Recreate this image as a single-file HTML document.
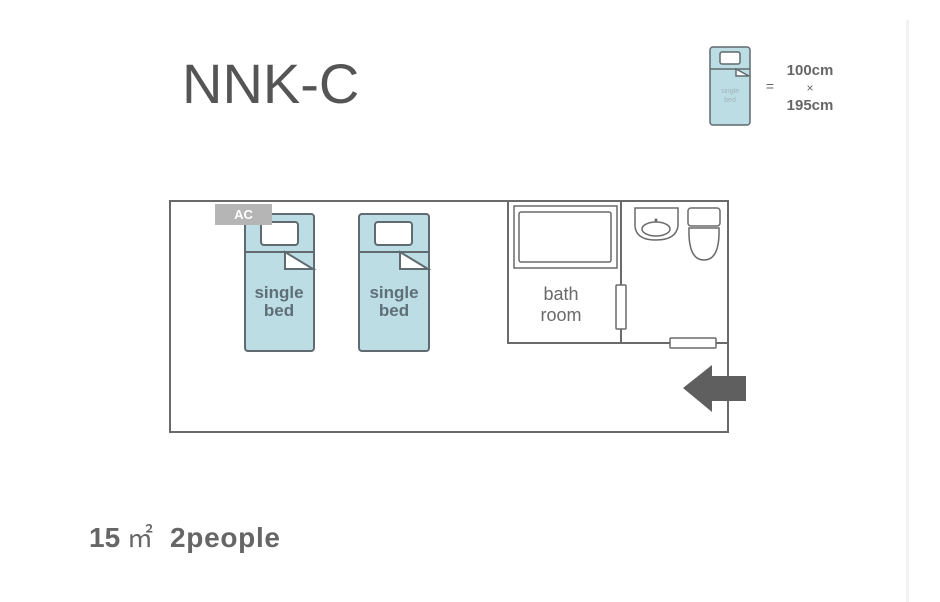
<!DOCTYPE html>
<html><head><meta charset="utf-8"><style>
html,body{margin:0;padding:0;background:#fff;}
svg{display:block;}
</style></head><body>
<svg width="940" height="602" viewBox="0 0 940 602" xmlns="http://www.w3.org/2000/svg">
<rect x="0" y="0" width="940" height="602" fill="#fff"/>
<rect x="906" y="20" width="3" height="582" fill="#f2f2f2"/>
<text x="182" y="103" font-family="Liberation Sans, sans-serif" font-size="56" fill="#555">NNK-C</text>

<!-- legend -->
<g stroke="#5f6b70" stroke-width="1.5">
<rect x="710" y="47" width="40" height="78" rx="3" fill="#bcdde3"/>
<rect x="720" y="52" width="20" height="12" rx="2" fill="#fff"/>
<line x1="710" y1="69" x2="750" y2="69"/>
<path d="M736 69 L736 76 L749 76 Z" fill="#fff"/>
</g>
<text x="730" y="93" text-anchor="middle" font-family="Liberation Sans, sans-serif" font-size="7" fill="#9fb5ba">single</text>
<text x="730" y="102" text-anchor="middle" font-family="Liberation Sans, sans-serif" font-size="7" fill="#9fb5ba">bed</text>
<text x="770" y="91" text-anchor="middle" font-family="Liberation Sans, sans-serif" font-size="14" fill="#666">=</text>
<text x="810" y="75" text-anchor="middle" font-family="Liberation Sans, sans-serif" font-size="15" font-weight="bold" fill="#666">100cm</text>
<text x="810" y="92" text-anchor="middle" font-family="Liberation Sans, sans-serif" font-size="12" fill="#666">×</text>
<text x="810" y="110" text-anchor="middle" font-family="Liberation Sans, sans-serif" font-size="15" font-weight="bold" fill="#666">195cm</text>

<!-- room -->
<g fill="none" stroke="#6a6a6a" stroke-width="2">
<rect x="170" y="201" width="558" height="231"/>
<polyline points="508,201 508,343 728,343"/>
<line x1="621" y1="201" x2="621" y2="343"/>
</g>
<g fill="#fff" stroke="#6a6a6a" stroke-width="1.5">
<rect x="514" y="206" width="103" height="62"/>
<rect x="519" y="212" width="92" height="50" rx="2"/>
<rect x="616" y="285" width="10" height="44" rx="1"/>
<rect x="670" y="338" width="46" height="10" rx="1"/>
<path d="M635 208 L678 208 L678 226 Q676 240 656 240 Q636 240 635 226 Z"/>
<ellipse cx="656" cy="229" rx="14" ry="7"/>
<rect x="688" y="208" width="32" height="18" rx="3"/>
<path d="M689 228 Q688 260 704 260 Q720 260 719 228 Z"/>
</g>
<circle cx="656" cy="220" r="1.5" fill="#6a6a6a"/>
<text x="561" y="300" text-anchor="middle" font-family="Liberation Sans, sans-serif" font-size="18" fill="#6a6a6a">bath</text>
<text x="561" y="321" text-anchor="middle" font-family="Liberation Sans, sans-serif" font-size="18" fill="#6a6a6a">room</text>
<path d="M683 388 L712 365 L712 376 L746 376 L746 401 L712 401 L712 412 Z" fill="#5f5f5f"/>

<!-- beds -->
<g stroke="#5f6b70" stroke-width="2">
<rect x="245" y="214" width="69" height="137" rx="3" fill="#bcdde3"/>
<rect x="261" y="222" width="37" height="23" rx="3" fill="#fff"/>
<line x1="245" y1="252" x2="314" y2="252"/>
<path d="M285 252 L285 269 L313 269 Z" fill="#fff"/>
<rect x="359" y="214" width="70" height="137" rx="3" fill="#bcdde3"/>
<rect x="375" y="222" width="37" height="23" rx="3" fill="#fff"/>
<line x1="359" y1="252" x2="429" y2="252"/>
<path d="M400 252 L400 269 L428 269 Z" fill="#fff"/>
</g>
<g font-family="Liberation Sans, sans-serif" font-size="17" font-weight="bold" fill="#5f6f78" text-anchor="middle">
<text x="279" y="298">single</text><text x="279" y="316">bed</text>
<text x="394" y="298">single</text><text x="394" y="316">bed</text>
</g>

<!-- AC -->
<rect x="215" y="204" width="57" height="21" fill="#b5b5b5"/>
<text x="243.5" y="219" text-anchor="middle" font-family="Liberation Sans, sans-serif" font-size="13" font-weight="bold" fill="#fff">AC</text>

<text x="89" y="547" font-family="Liberation Sans, sans-serif" font-size="28" font-weight="bold" fill="#666">15</text>
<text x="127" y="547" font-family="Liberation Sans, 'Noto Sans CJK SC', sans-serif" font-size="26" fill="#666">㎡</text>
<text x="170" y="547" font-family="Liberation Sans, sans-serif" font-size="28" font-weight="bold" fill="#666" textLength="110">2people</text>
</svg>
</body></html>
